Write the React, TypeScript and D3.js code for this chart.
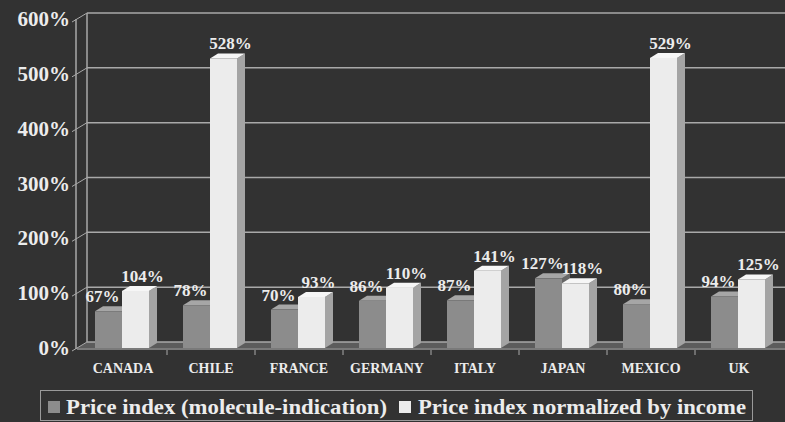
import React from "react";
import * as d3 from "d3";

const countries = ["CANADA", "CHILE", "FRANCE", "GERMANY", "ITALY", "JAPAN", "MEXICO", "UK"];
const moleculeIndex = [67, 78, 70, 86, 87, 127, 80, 94];
const incomeIndex = [104, 528, 93, 110, 141, 118, 529, 125];
const seriesNames = ["Price index (molecule-indication)", "Price index normalized by income"];
const yTicks = [0, 100, 200, 300, 400, 500, 600];

const W = 785;
const H = 422;
const BG = "#323232";
const GRID = "#a9a9a9";
const TXT = "#ececec";
const FONT = "'Liberation Serif', 'Times New Roman', serif";

// 3D depth offsets
const WALL_DX = 10;
const WALL_DY = -6;
const BAR_DX = 8;
const BAR_DY = -5;

const palettes = [
  { front: "#8c8c8c", top: "#a6a6a6", side: "#666666" },
  { front: "#ececec", top: "#f6f6f6", side: "#a4a4a4" },
];

export default function App() {
  const x = d3.scaleBand<string>().domain(countries).range([79, 783]);
  const xInner = d3.scaleBand<number>().domain([0, 1]).range([16, 70]);
  const y = d3.scaleLinear().domain([0, 600]).range([348, 19]);
  const series = [moleculeIndex, incomeIndex];

  const bw = xInner.bandwidth();
  const y0 = y(0);

  return (
    <svg width={W} height={H} style={{ display: "block", position: "absolute", left: 0, top: 0 }}>
      <rect x={0} y={0} width={W} height={H} fill={BG} />

      {/* floor */}
      <polygon
        points={`77,${y0} 785,${y0} 785,${y0 + WALL_DY} ${77 + WALL_DX},${y0 + WALL_DY}`}
        fill="#5c5c5c"
      />
      <line x1={77} x2={785} y1={y0 + 1} y2={y0 + 1} stroke="#7a7a7a" strokeWidth={2} />

      {/* back gridlines */}
      {yTicks.map((t) => (
        <g key={t}>
          <line
            x1={77 + WALL_DX}
            x2={W}
            y1={y(t) + WALL_DY}
            y2={y(t) + WALL_DY}
            stroke={GRID}
            strokeWidth={1.5}
          />
          <line x1={72} x2={77 + WALL_DX} y1={y(t) + 3} y2={y(t) + WALL_DY} stroke={GRID} strokeWidth={1} />
          <text
            x={70}
            y={y(t) + 7}
            textAnchor="end"
            fill={TXT}
            fontFamily={FONT}
            fontWeight="bold"
            fontSize={21}
          >
            {t}%
          </text>
        </g>
      ))}
      {/* left wall */}
      <line x1={76} x2={76} y1={y(600)} y2={y0 + 1} stroke={GRID} strokeWidth={1.5} />
      <line
        x1={77 + WALL_DX}
        x2={77 + WALL_DX}
        y1={y(600) + WALL_DY}
        y2={y0 + WALL_DY}
        stroke={GRID}
        strokeWidth={1.5}
      />

      {/* category ticks */}
      {countries.slice(1).map((c) => (
        <line
          key={c}
          x1={x(c)!}
          x2={x(c)!}
          y1={y0 + 2}
          y2={y0 + 7}
          stroke={GRID}
          strokeWidth={1}
        />
      ))}

      {/* bars */}
      {countries.map((c, i) =>
        series.map((vals, s) => {
          const v = vals[i];
          const bx = x(c)! + xInner(s)!;
          const top = y(v);
          const p = palettes[s];
          return (
            <g key={`${c}-${s}`}>
              <polygon
                points={`${bx + bw},${top} ${bx + bw + BAR_DX},${top + BAR_DY} ${bx + bw + BAR_DX},${y0 + BAR_DY} ${bx + bw},${y0}`}
                fill={p.side}
              />
              <polygon
                points={`${bx},${top} ${bx + BAR_DX},${top + BAR_DY} ${bx + bw + BAR_DX},${top + BAR_DY} ${bx + bw},${top}`}
                fill={p.top}
              />
              <rect x={bx} y={top} width={bw} height={y0 - top} fill={p.front} />
            </g>
          );
        })
      )}

      {/* value labels */}
      {countries.map((c, i) =>
        series.map((vals, s) => {
          const v = vals[i];
          const bx = x(c)! + xInner(s)!;
          return (
            <text
              key={`l-${c}-${s}`}
              x={bx + bw / 2 + (s === 0 ? -6 : 7)}
              y={y(v) - 9}
              textAnchor="middle"
              fill={TXT}
              fontFamily={FONT}
              fontWeight="bold"
              fontSize={17}
            >
              {v}%
            </text>
          );
        })
      )}

      {/* category labels */}
      {countries.map((c) => (
        <text
          key={`c-${c}`}
          x={x(c)! + x.bandwidth() / 2}
          y={373}
          textAnchor="middle"
          fill={TXT}
          fontFamily={FONT}
          fontWeight="bold"
          fontSize={14}
        >
          {c}
        </text>
      ))}

      {/* legend */}
      <rect x={40.5} y={390.5} width={712} height={30} fill="none" stroke="#9a9a9a" strokeWidth={1} />
      <rect x={48} y={401} width={12} height={12} fill={palettes[0].front} />
      <text
        x={66}
        y={414}
        fill={TXT}
        fontFamily={FONT}
        fontWeight="bold"
        fontSize={21}
        textLength={321}
        lengthAdjust="spacingAndGlyphs"
      >
        {seriesNames[0]}
      </text>
      <rect x={399} y={401} width={12} height={12} fill={palettes[1].front} />
      <text
        x={418}
        y={414}
        fill={TXT}
        fontFamily={FONT}
        fontWeight="bold"
        fontSize={21}
        textLength={328}
        lengthAdjust="spacingAndGlyphs"
      >
        {seriesNames[1]}
      </text>
    </svg>
  );
}
